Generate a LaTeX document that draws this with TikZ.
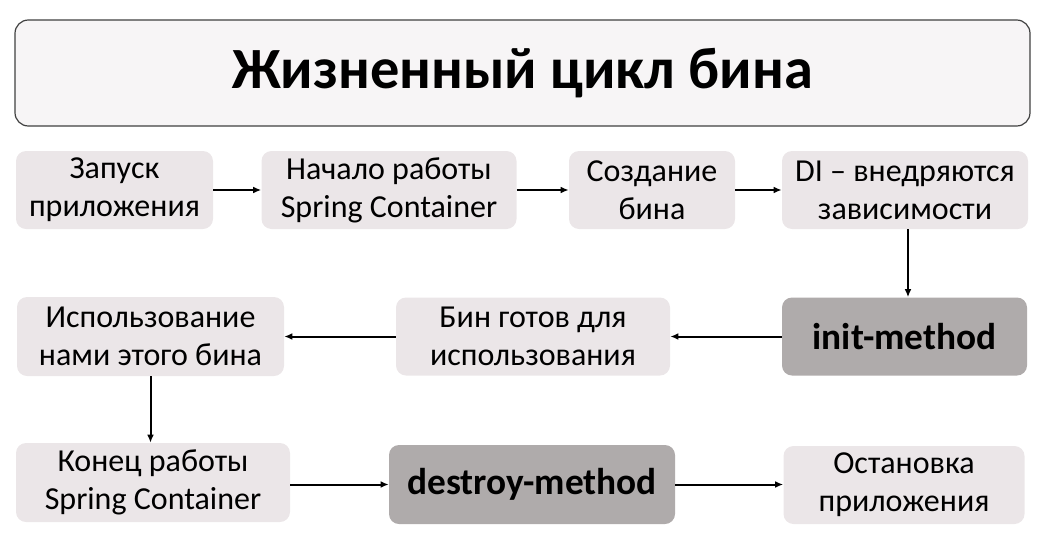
\documentclass[tikz,border=0pt]{standalone}
\usepackage{fontspec}
\setmainfont{Carlito}
\usetikzlibrary{arrows.meta}
\definecolor{lightbox}{HTML}{EBE6E8}
\definecolor{darkbox}{HTML}{AFABAB}
\definecolor{titlefill}{HTML}{F7F5F6}
\begin{document}
\begin{tikzpicture}[x=0.75pt,y=-0.75pt,
  stage/.style={fill=lightbox, rounded corners=7.5pt, align=center, inner sep=0pt,
    font=\fontsize{24}{28.5}\selectfont},
  method/.style={fill=darkbox, rounded corners=7.5pt, align=center, inner sep=0pt,
    font=\bfseries\fontsize{28}{32}\selectfont},
  flow/.style={-{Latex[length=6pt,width=5pt]}, line width=1.5pt}]
\useasboundingbox (0,0) rectangle (1050,536);
\node[draw=black!75, line width=0.9pt, fill=titlefill, rounded corners=10pt,
  minimum width=1015*0.75pt, minimum height=106*0.75pt, inner sep=0pt,
  font=\bfseries\fontsize{43.8}{50}\selectfont] (title) at (522.5,73) {Жизненный цикл бина};
% row 1
\node[stage, minimum width=197*0.75pt, minimum height=78*0.75pt] (start) at (114.5,190) {Запуск\\приложения};
\node[stage, minimum width=255*0.75pt, minimum height=78*0.75pt] (spring) at (389,190) {Начало работы\\Spring Container};
\node[stage, minimum width=166*0.75pt, minimum height=78*0.75pt] (create) at (652,190) {Создание\\бина};
\node[stage, minimum width=246*0.75pt, minimum height=78*0.75pt] (di) at (905,190) {DI – внедряются\\зависимости};
% row 2
\node[method, minimum width=245*0.75pt, minimum height=78*0.75pt] (init) at (904.5,336.5) {init-method};
\node[stage, minimum width=274*0.75pt, minimum height=78*0.75pt] (ready) at (533,336.5) {Бин готов для\\использования};
\node[stage, minimum width=267*0.75pt, minimum height=79*0.75pt] (use) at (150.5,336.5) {Использование\\нами этого бина};
% row 3
\node[stage, minimum width=274*0.75pt, minimum height=79*0.75pt] (end) at (153,482.5) {Конец работы\\Spring Container};
\node[method, minimum width=286*0.75pt, minimum height=79*0.75pt] (destroy) at (532,484.5) {destroy-method};
\node[stage, minimum width=241*0.75pt, minimum height=78*0.75pt] (stop) at (904,485) {Остановка\\приложения};
% connectors
\draw[flow] (start) -- (spring);
\draw[flow] (spring) -- (create);
\draw[flow] (create) -- (di);
\draw[flow] (di.south) ++(3,0) coordinate (diS) -- (diS |- init.north);
\draw[flow] (init) -- (ready);
\draw[flow] (ready) -- (use);
\draw[flow] (use.south) coordinate (useS) -- (useS |- end.north);
\draw[flow] (end.east |- destroy) -- (destroy);
\draw[flow] (destroy) -- (destroy -| stop.west);
\end{tikzpicture}
\end{document}
